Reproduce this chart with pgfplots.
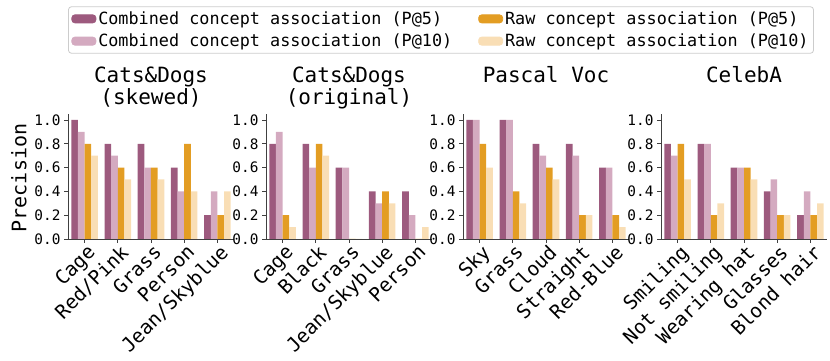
\documentclass[border=0pt]{standalone}
\usepackage{fontspec}
\setmainfont{DejaVu Sans Mono}
\usepackage{pgfplots}
\usepackage{pgfplotstable}
\pgfplotsset{compat=1.18}

\definecolor{cA}{RGB}{157,90,126}
\definecolor{cB}{RGB}{212,170,192}
\definecolor{cC}{RGB}{227,157,35}
\definecolor{cD}{RGB}{249,222,181}

% precision per concept: a = combined P@5, b = combined P@10, c = raw P@5, d = raw P@10
\pgfplotstableread{
x a b c d
0 1.0 0.9 0.8 0.7
1 0.8 0.7 0.6 0.5
2 0.8 0.6 0.6 0.5
3 0.6 0.4 0.8 0.4
4 0.2 0.4 0.2 0.4
}\skewed
\pgfplotstableread{
x a b c d
0 0.8 0.9 0.2 0.1
1 0.8 0.6 0.8 0.7
2 0.6 0.6 0.0 0.0
3 0.4 0.3 0.4 0.3
4 0.4 0.2 0.0 0.1
}\original
\pgfplotstableread{
x a b c d
0 1.0 1.0 0.8 0.6
1 1.0 1.0 0.4 0.3
2 0.8 0.7 0.6 0.5
3 0.8 0.7 0.2 0.2
4 0.6 0.6 0.2 0.1
}\pascal
\pgfplotstableread{
x a b c d
0 0.8 0.7 0.8 0.5
1 0.8 0.8 0.2 0.3
2 0.6 0.6 0.6 0.5
3 0.4 0.5 0.2 0.2
4 0.2 0.4 0.2 0.3
}\celeba

\newcommand\fs[1]{\fontsize{#1}{#1}\selectfont}
\newcommand\bars[1]{%
  \addplot[fill=cA, draw=none, bar shift=-0.3] table[x=x, y=a] {#1};
  \addplot[fill=cB, draw=none, bar shift=-0.1] table[x=x, y=b] {#1};
  \addplot[fill=cC, draw=none, bar shift=0.1] table[x=x, y=c] {#1};
  \addplot[fill=cD, draw=none, bar shift=0.3] table[x=x, y=d] {#1};
}
\newcommand\ttl[2]{%
  \node[anchor=base, font=\fs{21}] at (rel axis cs:0.5,1) [yshift=31pt] {#1};
  \node[anchor=base, font=\fs{21}] at (rel axis cs:0.5,1) [yshift=9pt] {#2};
}

\pgfplotsset{
  panel/.style={
    scale only axis, width=166pt, height=125pt,
    ybar, bar width=0.2,
    xmin=-0.5, xmax=4.5, ymin=0, ymax=1.05,
    clip=false,
    axis x line*=bottom, axis y line*=left,
    axis line style={black!75, -, line width=0.8pt},
    xtick={0,1,2,3,4}, ytick={0,0.2,0.4,0.6,0.8,1.0},
    tick align=outside, major tick length=4pt,
    tick style={black!75, line width=0.8pt},
    xticklabel style={rotate=45, anchor=north east, font=\fs{19.5}, inner sep=1pt, xshift=2pt},
    yticklabel style={font=\fs{14.4}, /pgf/number format/fixed,
      /pgf/number format/fixed zerofill, /pgf/number format/precision=1,
      /pgf/number format/assume math mode=true},
    anchor=south west,
  },
}

\begin{document}
\begin{tikzpicture}
\useasboundingbox (0,0) rectangle (830pt,361pt);

\begin{axis}[panel, at={(68pt,122pt)},
    xticklabels={Cage,Red/Pink,Grass,Person,Jean/Skyblue},
    legend columns=2,
    legend cell align=left,
    legend style={at={(2.247,1.672)}, anchor=center, font=\fs{16.8},
      draw=black!20, line width=0.8pt, rounded corners=3pt,
      inner xsep=3pt, inner ysep=3pt, row sep=4pt,
      /tikz/every even column/.append style={column sep=24pt}},
  ]
  \addlegendimage{legend image code/.code={\fill[cA] (0pt,-4pt) rectangle (24pt,4pt);}}
  \addlegendimage{legend image code/.code={\fill[cC] (0pt,-4pt) rectangle (24pt,4pt);}}
  \addlegendimage{legend image code/.code={\fill[cB] (0pt,-4pt) rectangle (24pt,4pt);}}
  \addlegendimage{legend image code/.code={\fill[cD] (0pt,-4pt) rectangle (24pt,4pt);}}
  \legend{Combined concept association (P@5), Raw concept association (P@5),
    Combined concept association (P@10), Raw concept association (P@10)}
  \bars{\skewed}
  \ttl{Cats\&Dogs}{(skewed)}
\end{axis}

\begin{axis}[panel, at={(266pt,122pt)},
    xticklabels={Cage,Black,Grass,Jean/Skyblue,Person}]
  \bars{\original}
  \ttl{Cats\&Dogs}{(original)}
\end{axis}

\begin{axis}[panel, at={(463pt,122pt)},
    xticklabels={Sky,Grass,Cloud,Straight,Red-Blue}]
  \bars{\pascal}
  \node[anchor=base, font=\fs{21}] at (rel axis cs:0.5,1) [yshift=31pt] {Pascal Voc};
\end{axis}

\begin{axis}[panel, at={(661pt,122pt)},
    xticklabels={Smiling,Not smiling,Wearing hat,Glasses,Blond hair}]
  \bars{\celeba}
  \node[anchor=base, font=\fs{21}] at (rel axis cs:0.5,1) [yshift=31pt] {CelebA};
\end{axis}

% shared y label
\node[rotate=90, font=\fs{20}] at (19pt,183pt) {Precision};
\end{tikzpicture}
\end{document}
